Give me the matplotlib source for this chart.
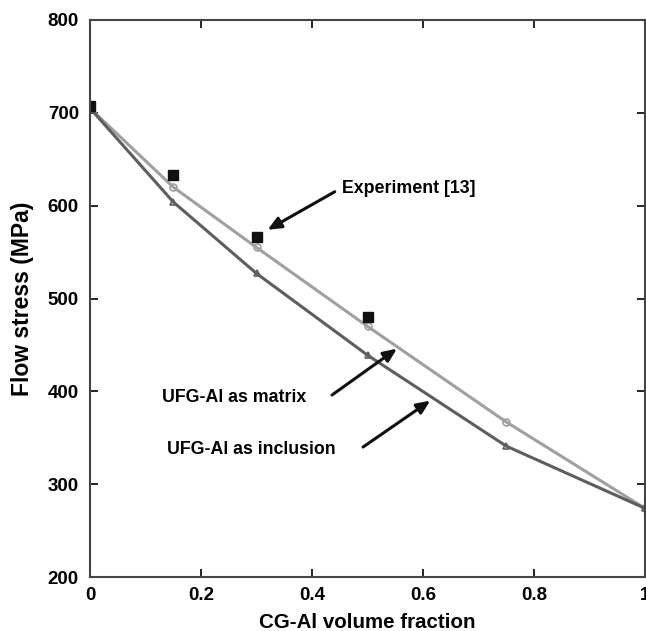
import matplotlib.pyplot as plt
import numpy as np

plt.rcParams['font.family'] = ['Liberation Sans', 'DejaVu Sans']
plt.rcParams['font.weight'] = 'bold'

# Data
cg_fraction = [0, 0.15, 0.3, 0.5, 0.75, 1.0]
stress_matrix = [705, 620, 555, 470, 367, 274]
stress_inclusion = [705, 604, 527, 439, 341, 274]

exp_fraction = [0, 0.15, 0.3, 0.5]
exp_stress = [707, 633, 566, 480]

fig = plt.figure(figsize=(6.46, 6.31), dpi=100)
ax = fig.add_axes([90 / 646, 54 / 631, 555 / 646, 557 / 631])

ax.plot(cg_fraction, stress_matrix, color='#a0a0a0', lw=2.2,
        marker='o', ms=5, mfc='none', mec='#a0a0a0', mew=1.2)
ax.plot(cg_fraction, stress_inclusion, color='#5e5e5e', lw=2.2,
        marker='^', ms=4, mfc='none', mec='#5e5e5e', mew=1.2)
ax.plot(exp_fraction, exp_stress, ls='none', marker='s', ms=7,
        color='#111111')

ax.set_xlim(0, 1)
ax.set_ylim(200, 800)
ax.set_xticks([0, 0.2, 0.4, 0.6, 0.8, 1])
ax.set_xticklabels(['0', '0.2', '0.4', '0.6', '0.8', '1'])
ax.set_yticks([200, 300, 400, 500, 600, 700, 800])
ax.tick_params(direction='in', length=6, width=1.2, labelsize=13.5,
               top=True, right=True)
ax.tick_params(axis='y', pad=8)
ax.tick_params(axis='x', pad=7)
for s in ax.spines.values():
    s.set_linewidth(1.5)
    s.set_color('#444444')

ax.set_xlabel('CG-Al volume fraction', fontsize=14.8, fontweight='bold')
ax.set_ylabel('Flow stress (MPa)', fontsize=16.5, fontweight='bold')
ax.xaxis.set_label_coords(0.5, -0.081)
ax.xaxis.label.set_va('center')
ax.yaxis.set_label_coords(-0.121, 0.5)
ax.yaxis.label.set_va('center')

arrow = dict(arrowstyle='-|>,head_length=0.8,head_width=0.35', color='#111111',
             lw=2.2, shrinkA=0, shrinkB=0)
ax.text(0.454, 619, 'Experiment [13]', fontsize=12.8, fontweight='bold', va='center')
ax.annotate('', xy=(0.32, 574), xytext=(0.441, 615), arrowprops=arrow)

ax.text(0.130, 393, 'UFG-Al as matrix', fontsize=12.8, fontweight='bold', va='center')
ax.annotate('', xy=(0.553, 446), xytext=(0.436, 396), arrowprops=arrow)

ax.text(0.139, 337, 'UFG-Al as inclusion', fontsize=12.8, fontweight='bold', va='center')
ax.annotate('', xy=(0.613, 390), xytext=(0.492, 340), arrowprops=arrow)

fig.savefig('out.png', dpi=100)
